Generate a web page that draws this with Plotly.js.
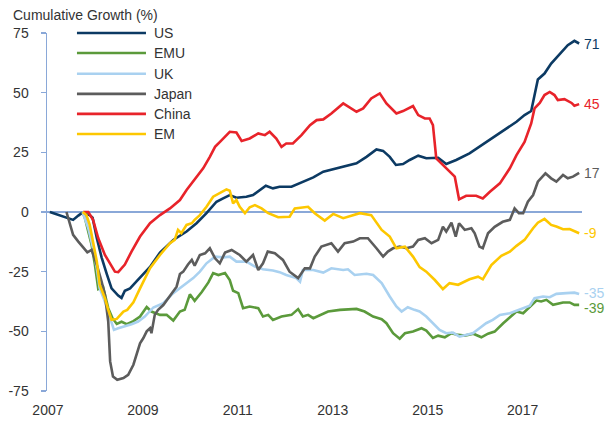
<!DOCTYPE html>
<html><head><meta charset="utf-8">
<script src="https://cdn.plot.ly/plotly-3.0.1.min.js"></script>
<style>html,body{margin:0;padding:0;background:#fff;}#chart{width:616px;height:421px;}</style>
</head><body><div id="chart"></div>
<script>
var seriesNames = ["US","EMU","UK","Japan","China","EM"];
var seriesColors = ["#0c3a63","#5b9a3b","#a9d1f0","#5c5c5c","#e8232a","#fdc700"];
var endLabels = ["71","-39","-35","17","45","-9"];
var xTicks = [2007,2009,2011,2013,2015,2017];
var yTicks = [-75,-50,-25,0,25,50,75];

var usX = [2007.04,2007.32,2007.53,2007.64,2007.71,2007.88,2007.94,2008.03,2008.13,2008.24,2008.34,2008.48,2008.55,2008.62,2008.73,2008.87,2009.01,2009.15,2009.36,2009.64,2009.92,2010.13,2010.34,2010.55,2010.69,2010.83,2010.97,2011.18,2011.32,2011.46,2011.59,2011.74,2011.88,2012.13,2012.37,2012.59,2012.80,2013.08,2013.29,2013.50,2013.71,2013.92,2014.06,2014.20,2014.33,2014.48,2014.62,2014.80,2014.97,2015.22,2015.39,2015.60,2015.88,2016.13,2016.34,2016.59,2016.87,2017.04,2017.18,2017.32,2017.46,2017.60,2017.78,2017.95,2018.09,2018.19];
var usY = [0,-2,-3.3,-1.5,-0.5,-1.3,-2.4,-11,-19,-26,-32,-35,-36,-33,-32,-29,-26,-23,-17,-11.7,-8.2,-4.7,-0.5,4.3,5.7,7.1,6,6.4,7.1,9.2,11,9.9,10.6,10.6,12.7,14.5,16.9,18.3,19.2,20.4,23.1,26.2,25.6,23.1,19.7,20.1,21.8,23.6,22.5,22.7,20.1,21.8,24.6,28,30.8,34.3,37.8,40.6,42.3,55.5,58,62.2,66.4,69.9,71.7,70.6];

var emuX = [2007.73,2007.78,2007.85,2007.92,2007.99,2008.06,2008.16,2008.20,2008.27,2008.36,2008.45,2008.55,2008.66,2008.80,2008.94,2009.08,2009.18,2009.36,2009.50,2009.64,2009.78,2009.88,2009.99,2010.09,2010.24,2010.38,2010.48,2010.59,2010.73,2010.83,2010.90,2011.01,2011.11,2011.25,2011.43,2011.53,2011.64,2011.74,2011.92,2012.13,2012.27,2012.37,2012.48,2012.59,2012.76,2012.90,2013.15,2013.32,2013.50,2013.67,2013.85,2014.03,2014.13,2014.27,2014.41,2014.52,2014.69,2014.87,2014.97,2015.11,2015.22,2015.36,2015.50,2015.64,2015.78,2015.96,2016.13,2016.27,2016.41,2016.59,2016.76,2016.87,2017.01,2017.15,2017.29,2017.39,2017.50,2017.64,2017.85,2017.99,2018.09,2018.19];
var emuY = [0,-2.6,-8.2,-13.8,-22.2,-32.3,-31.3,-34.7,-40.3,-44.5,-46.9,-46,-47,-45.7,-43.8,-39.8,-41.7,-43.1,-43.1,-45.5,-41.7,-41,-34.5,-37.2,-33.5,-29.5,-25.6,-26.4,-25.6,-28.5,-33,-34,-40.3,-39.6,-40.3,-43.8,-43.1,-45.2,-43.8,-43.1,-40.7,-43.8,-43.1,-44.5,-43.1,-41.7,-41,-40.7,-40.6,-41.7,-43.8,-44.9,-46.6,-50.8,-53.1,-50.8,-50.1,-48.7,-49.7,-52.8,-51.8,-52.5,-50.8,-51.5,-51.8,-51,-52.5,-51,-50.1,-46.6,-43.5,-41.7,-42.4,-39.6,-37.1,-37.5,-36.8,-38.9,-37.9,-37.9,-38.9,-38.9];

var ukX = [2007.73,2007.85,2007.95,2008.03,2008.09,2008.20,2008.31,2008.39,2008.48,2008.62,2008.76,2008.90,2009.04,2009.22,2009.43,2009.64,2009.85,2010.06,2010.20,2010.34,2010.52,2010.69,2010.83,2010.97,2011.18,2011.36,2011.53,2011.74,2011.88,2012.02,2012.23,2012.31,2012.37,2012.59,2012.80,2012.97,2013.22,2013.32,2013.46,2013.71,2013.85,2014.03,2014.20,2014.34,2014.45,2014.58,2014.72,2014.83,2014.97,2015.11,2015.25,2015.39,2015.53,2015.67,2015.81,2015.95,2016.09,2016.23,2016.37,2016.52,2016.73,2016.94,2017.15,2017.25,2017.43,2017.57,2017.71,2017.92,2018.09,2018.19];
var ukY = [0,-6.8,-15.2,-23.6,-31.9,-37.5,-44.5,-49.4,-48.7,-48,-47,-45.9,-43.8,-40,-38.2,-34,-31,-27.7,-25,-21.5,-18.7,-19,-18.7,-20.8,-20.8,-22.9,-24,-24.5,-25.2,-26.4,-27.7,-29.2,-24.3,-24.3,-25.4,-23.6,-24.3,-24,-26.4,-25.9,-26.4,-29.8,-35.4,-39.6,-41.7,-39.9,-41,-41.7,-43.8,-46.6,-49.4,-50.8,-50.5,-52.2,-51.5,-50.8,-48.7,-46.6,-45.2,-43.1,-42.4,-41,-39.3,-36.1,-35.4,-35.7,-34.3,-34,-33.8,-34.4];

var japanX = [2007.39,2007.46,2007.53,2007.64,2007.74,2007.83,2007.92,2008.03,2008.13,2008.20,2008.27,2008.31,2008.37,2008.46,2008.59,2008.69,2008.80,2008.87,2008.94,2009.01,2009.08,2009.15,2009.18,2009.25,2009.32,2009.43,2009.57,2009.71,2009.78,2009.85,2009.95,2010.03,2010.09,2010.20,2010.31,2010.41,2010.52,2010.62,2010.73,2010.87,2011.04,2011.18,2011.32,2011.43,2011.53,2011.63,2011.78,2011.95,2012.09,2012.27,2012.41,2012.52,2012.62,2012.76,2012.97,2013.11,2013.25,2013.43,2013.57,2013.74,2013.92,2014.06,2014.16,2014.27,2014.41,2014.55,2014.69,2014.80,2014.94,2015.08,2015.22,2015.32,2015.39,2015.50,2015.59,2015.66,2015.78,2015.92,2015.99,2016.09,2016.16,2016.27,2016.41,2016.58,2016.73,2016.83,2016.92,2017.01,2017.11,2017.22,2017.32,2017.48,2017.60,2017.71,2017.85,2017.95,2018.06,2018.19];
var japanY = [0,-5.4,-9.6,-12.4,-14.9,-16.9,-15.9,-22.2,-29.2,-34.7,-45.9,-62.6,-68.9,-70.3,-69.6,-68.2,-64,-59,-55,-52.8,-50,-48.7,-50.8,-43.1,-41,-39,-35.4,-31.3,-26,-25,-22,-20.1,-22.5,-18,-17.3,-15.2,-19.4,-21.5,-17,-15.9,-18,-20.8,-18,-24.3,-21.5,-16.6,-17.3,-20.1,-25,-27.7,-23.6,-23.6,-18.7,-14.5,-13.1,-16.6,-13.1,-12.4,-11,-11,-15.2,-18.7,-16.6,-15.2,-14.5,-15.2,-14.5,-11.7,-11,-13.1,-11.7,-6.2,-8.2,-4.5,-10.3,-4.7,-7.5,-6.8,-8.9,-14.5,-15.2,-8.9,-6.2,-4.1,-3.3,1.5,-0.5,-0.5,4.3,7.1,12.7,16.2,14.1,12.7,15.5,14.1,14.8,16.4];

var chinaX = [2007.74,2007.85,2007.95,2008.06,2008.20,2008.31,2008.41,2008.48,2008.62,2008.76,2008.94,2009.15,2009.36,2009.57,2009.78,2009.92,2010.09,2010.27,2010.41,2010.52,2010.66,2010.83,2010.97,2011.08,2011.25,2011.43,2011.57,2011.67,2011.81,2011.92,2012.02,2012.16,2012.34,2012.52,2012.66,2012.80,2012.97,2013.22,2013.50,2013.64,2013.81,2013.99,2014.13,2014.34,2014.48,2014.69,2014.80,2014.94,2015.04,2015.11,2015.18,2015.29,2015.43,2015.57,2015.66,2015.81,2016.02,2016.16,2016.31,2016.52,2016.73,2016.87,2017.04,2017.18,2017.25,2017.36,2017.46,2017.57,2017.67,2017.74,2017.88,2018.03,2018.09,2018.19];
var chinaY = [0,0,-3.3,-11,-18,-21.5,-25,-25.2,-22,-16.6,-10.3,-4.7,-1.3,1.5,5,9.2,13.4,18.3,23.1,27.3,30.1,33.6,33.3,29.8,30.8,32.9,32.2,33.6,30.8,27.3,28.7,28.7,32.2,36.4,38.5,38.8,41.3,45.5,42,43.4,47.6,49.7,45.5,41.3,42.3,44.4,40.6,39.2,39.2,36.4,22.5,20.4,17.6,14.8,5.3,6.8,6.8,5.7,8.5,12,18.3,23.8,29.4,37.1,43.4,45.7,49,50.3,49,46.9,47.3,45.7,44.5,45.2];

var emX = [2007.73,2007.81,2007.88,2007.95,2008.03,2008.09,2008.20,2008.27,2008.34,2008.45,2008.59,2008.67,2008.80,2008.94,2009.08,2009.15,2009.36,2009.57,2009.67,2009.74,2009.81,2009.92,2010.03,2010.09,2010.20,2010.34,2010.48,2010.62,2010.76,2010.83,2010.90,2010.97,2011.04,2011.15,2011.25,2011.36,2011.50,2011.64,2011.85,2012.09,2012.20,2012.48,2012.62,2012.83,2013.01,2013.22,2013.57,2013.81,2014.03,2014.20,2014.34,2014.52,2014.69,2014.83,2014.97,2015.15,2015.32,2015.46,2015.64,2015.88,2016.06,2016.16,2016.34,2016.55,2016.73,2016.87,2017.04,2017.22,2017.32,2017.46,2017.60,2017.71,2017.85,2017.99,2018.13,2018.19];
var emY = [0,-1.3,-5.4,-12.4,-20.8,-30.5,-36.1,-41,-45.2,-44.8,-41.7,-41,-37.8,-32,-26.5,-23.5,-18,-13.1,-11.7,-7.5,-8.9,-5.4,-4.7,-3.3,-1.3,2.2,6.4,7.8,9.5,8.9,3.6,5,2.2,-0.5,2,2.9,1.5,-0.5,-2.2,-2,1.5,2.2,-0.5,-3.6,-0.8,-2.6,-0.5,-1.3,-7.5,-10.3,-15.2,-14.5,-18.7,-23.1,-25,-28.5,-32.3,-29.8,-30.5,-28.2,-27.1,-28.2,-22.2,-18.4,-16.6,-14.2,-11.7,-6.8,-4.5,-2.9,-5.4,-6.1,-7.2,-7.1,-8.2,-8.9];

var xs = [usX, emuX, ukX, japanX, chinaX, emX];
var ys = [usY, emuY, ukY, japanY, chinaY, emY];

var FONT = "'Liberation Sans Narrow', 'Arial Narrow', 'Liberation Sans', Arial, sans-serif";
var TXT = '#333333';
var traces = [];
var annotations = [];
var shapes = [];
var legendRowsY = [1.0, 0.944, 0.886, 0.830, 0.774, 0.718];
for (var i = 0; i < seriesNames.length; i++) {
  traces.push({type:'scatter', mode:'lines', name: seriesNames[i], x: xs[i], y: ys[i],
    line:{color: seriesColors[i], width:2.6}, hoverinfo:'skip'});
  var xi = xs[i], yi = ys[i];
  var ysh = 0;
  if (seriesNames[i] === 'EMU') ysh = -3;
  if (seriesNames[i] === 'UK') ysh = 1;
  annotations.push({xref:'x', yref:'y', x: xi[xi.length-1], y: yi[yi.length-1], text: endLabels[i],
    showarrow:false, xanchor:'left', xshift:3, yshift: ysh,
    font:{family:FONT, size:14, color: seriesColors[i]}});
  shapes.push({type:'line', xref:'paper', yref:'paper', x0:0.056, x1:0.185, y0:legendRowsY[i], y1:legendRowsY[i],
    line:{color: seriesColors[i], width:2.6}});
  annotations.push({xref:'paper', yref:'paper', x:0.197, y:legendRowsY[i], text: seriesNames[i], showarrow:false,
    xanchor:'left', yanchor:'middle', font:{family:FONT, size:14, color:TXT}});
}
annotations.push({xref:'paper', yref:'paper', x:-0.068, y:1.05, text:'Cumulative Growth (%)', showarrow:false,
  xanchor:'left', yanchor:'middle', font:{family:FONT, size:14, color:TXT}});

var layout = {
  width:616, height:421,
  margin:{l:47, r:34, t:33, b:30},
  paper_bgcolor:'#ffffff', plot_bgcolor:'#ffffff',
  showlegend:false,
  font:{family:FONT, size:14, color:TXT},
  xaxis:{range:[2006.98, 2018.25], tickvals:xTicks, ticktext:xTicks.map(String), showgrid:false,
    zeroline:false, showline:false, ticks:'', ticklabelstandoff:9, tickfont:{family:FONT, size:14, color:TXT}},
  yaxis:{range:[-75,75], tickvals:yTicks, ticktext:yTicks.map(String), showgrid:false,
    zeroline:true, zerolinecolor:'#8aa8d8', zerolinewidth:1.2,
    showline:true, linecolor:'#8aa8d8', linewidth:1.5, ticks:'outside', ticklen:5, tickcolor:'#8aa8d8', tickwidth:1.5,
    ticklabelstandoff:9, tickfont:{family:FONT, size:14, color:TXT}},
  shapes: shapes,
  annotations: annotations
};
Plotly.newPlot('chart', traces, layout, {staticPlot:true, displayModeBar:false});
</script></body></html>
